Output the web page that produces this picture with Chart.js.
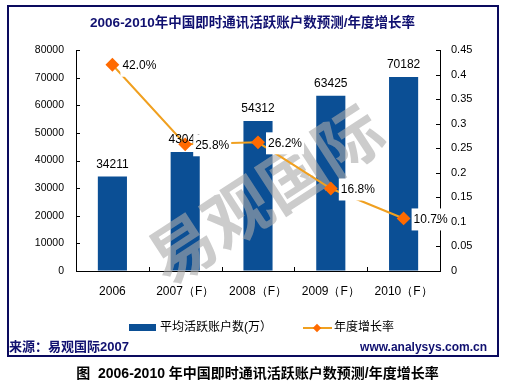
<!DOCTYPE html>
<html>
<head>
<meta charset="utf-8">
<script src="https://cdn.jsdelivr.net/npm/chart.js@4"></script>
<style>
  body { margin: 0; background: #fff; }
  #wrap { position: relative; width: 515px; height: 390px; overflow: hidden;
    font-family: "Liberation Sans", "Noto Sans CJK SC", sans-serif; }
  #chart { position: absolute; left: 0; top: 0; }
  .txt { position: absolute; white-space: nowrap; line-height: 16px; }
  #frame { position: absolute; left: 7px; top: 5px; width: 488px; height: 348px;
    border: 2px solid #0a0a5e; }
</style>
</head>
<body>
<div id="wrap">
  <canvas id="chart" width="515" height="390"></canvas>
  <div id="frame"></div>
  <div class="txt" style="left:0;width:505px;top:15px;text-align:center;font-weight:bold;font-size:13.5px;color:#101070;">2006-2010年中国即时通讯活跃账户数预测/年度增长率</div>

  <div style="position:absolute;left:129px;top:324px;width:27px;height:7px;background:#0b4f95;"></div>
  <div class="txt" style="left:160px;top:319px;font-size:12px;">平均活跃账户数(万）</div>
  <div style="position:absolute;left:303px;top:327px;width:29px;height:2px;background:#f0a020;"></div>
  <div style="position:absolute;left:314px;top:325px;width:6px;height:6px;background:#ff6a00;transform:rotate(45deg);"></div>
  <div class="txt" style="left:334px;top:319px;font-size:12px;">年度增长率</div>

  <div class="txt" style="left:9px;top:339px;font-size:13px;font-weight:bold;color:#101070;">来源：易观国际2007</div>
  <div class="txt" style="right:28px;top:339px;font-size:12px;font-weight:bold;color:#101070;">www.analysys.com.cn</div>

  <div class="txt" style="left:0;width:515px;top:365px;text-align:center;font-size:14px;font-weight:bold;color:#000;">图&nbsp;&nbsp;2006-2010 年中国即时通讯活跃账户数预测/年度增长率</div>
</div>

<script>
const years = ['2006', '2007（F）', '2008（F）', '2009（F）', '2010（F）'];
const accounts = [34211, 43041, 54312, 63425, 70182];
const growth = [0.42, 0.258, 0.262, 0.168, 0.107];
const growthLabels = ['42.0%', '25.8%', '26.2%', '16.8%', '10.7%'];
const barLabels = ['34211', '43041', '54312', '63425', '70182'];

const BAR_BLUE = '#0b4f95';
const LINE_ORANGE = '#f0a020';
const POINT_ORANGE = '#ff6a00';
const NUM_FONT = '"Liberation Sans", Arial, sans-serif';

// inward tick marks, like the original
const innerTicks = {
  id: 'innerTicks',
  afterDraw(chart) {
    const ctx = chart.ctx;
    const area = chart.chartArea;
    ctx.save();
    ctx.strokeStyle = '#000';
    ctx.lineWidth = 1;
    ctx.beginPath();
    chart.scales.y.ticks.forEach(t => {
      const y = Math.round(chart.scales.y.getPixelForValue(t.value)) + 0.5;
      ctx.moveTo(area.left, y); ctx.lineTo(area.left + 4, y);
    });
    chart.scales.y1.ticks.forEach(t => {
      const y = Math.round(chart.scales.y1.getPixelForValue(t.value)) + 0.5;
      ctx.moveTo(area.right - 4, y); ctx.lineTo(area.right, y);
    });
    const xs = chart.scales.x;
    for (let i = 0; i < years.length - 1; i++) {
      const x = Math.round((xs.getPixelForValue(i) + xs.getPixelForValue(i + 1)) / 2) + 0.5;
      ctx.moveTo(x, area.bottom); ctx.lineTo(x, area.bottom - 4);
    }
    ctx.stroke();
    ctx.restore();
  }
};

// watermark over the bars, under the line
const watermark = {
  id: 'watermark',
  afterDatasetDraw(chart, args) {
    if (args.index !== 0) return;
    const ctx = chart.ctx;
    ctx.save();
    ctx.translate(265, 194);
    ctx.rotate(-33 * Math.PI / 180);
    ctx.font = 'bold 66px "Noto Sans CJK SC"';
    ctx.fillStyle = 'rgba(170,170,170,0.6)';
    ctx.textAlign = 'center';
    ctx.textBaseline = 'middle';
    ctx.fillText('易观国际', 0, 0);
    ctx.restore();
  }
};

const valueLabels = {
  id: 'valueLabels',
  afterDatasetsDraw(chart) {
    const ctx = chart.ctx;
    ctx.save();
    ctx.font = '12px ' + NUM_FONT;
    ctx.fillStyle = '#000';
    ctx.textAlign = 'center';
    ctx.textBaseline = 'middle';
    chart.getDatasetMeta(0).data.forEach((bar, i) => {
      ctx.fillText(barLabels[i], bar.x, bar.y - 12);
    });
    ctx.textAlign = 'left';
    chart.getDatasetMeta(1).data.forEach((pt, i) => {
      const w = ctx.measureText(growthLabels[i]).width;
      ctx.fillStyle = '#fff';
      ctx.fillRect(pt.x + 8, pt.y - 10, w + 4, 22);
      ctx.fillStyle = '#000';
      ctx.fillText(growthLabels[i], pt.x + 10, pt.y + 1);
    });
    ctx.restore();
  }
};

new Chart(document.getElementById('chart'), {
  data: {
    labels: years,
    datasets: [
      {
        type: 'bar',
        label: '平均活跃账户数(万）',
        data: accounts,
        backgroundColor: BAR_BLUE,
        categoryPercentage: 1,
        barPercentage: 0.4,
        yAxisID: 'y',
        order: 2
      },
      {
        type: 'line',
        label: '年度增长率',
        data: growth,
        borderColor: LINE_ORANGE,
        borderWidth: 2,
        pointStyle: 'rectRot',
        pointRadius: 5.5,
        pointBackgroundColor: POINT_ORANGE,
        pointBorderColor: POINT_ORANGE,
        tension: 0,
        yAxisID: 'y1',
        order: 1
      }
    ]
  },
  options: {
    responsive: false,
    animation: false,
    layout: { padding: { top: 50, left: 0, right: 0, bottom: 0 } },
    plugins: { legend: { display: false }, tooltip: { enabled: false }, title: { display: false } },
    scales: {
      x: {
        offset: true,
        grid: { display: true, drawOnChartArea: false, drawTicks: false },
        border: { display: true, color: '#000', width: 1 },
        ticks: { color: '#000', font: { size: 12, family: NUM_FONT }, padding: 13, maxRotation: 0 },
        afterFit(scale) { scale.height = 119; }
      },
      y: {
        position: 'left',
        min: 0, max: 80000,
        grid: { display: true, drawOnChartArea: false, drawTicks: false },
        border: { display: true, color: '#000', width: 1 },
        ticks: {
          stepSize: 10000, color: '#000', font: { size: 10.5, family: NUM_FONT }, padding: 12,
          callback: v => String(v)
        },
        afterFit(scale) { scale.width = 76; }
      },
      y1: {
        position: 'right',
        min: 0, max: 0.45,
        grid: { display: true, drawOnChartArea: false, drawTicks: false },
        border: { display: true, color: '#000', width: 1 },
        ticks: {
          stepSize: 0.05, color: '#000', font: { size: 11, family: NUM_FONT }, padding: 11,
          callback: v => String(Math.round(v * 100) / 100)
        },
        afterFit(scale) { scale.width = 75; }
      }
    }
  },
  plugins: [watermark, valueLabels, innerTicks]
});
</script>
</body>
</html>
